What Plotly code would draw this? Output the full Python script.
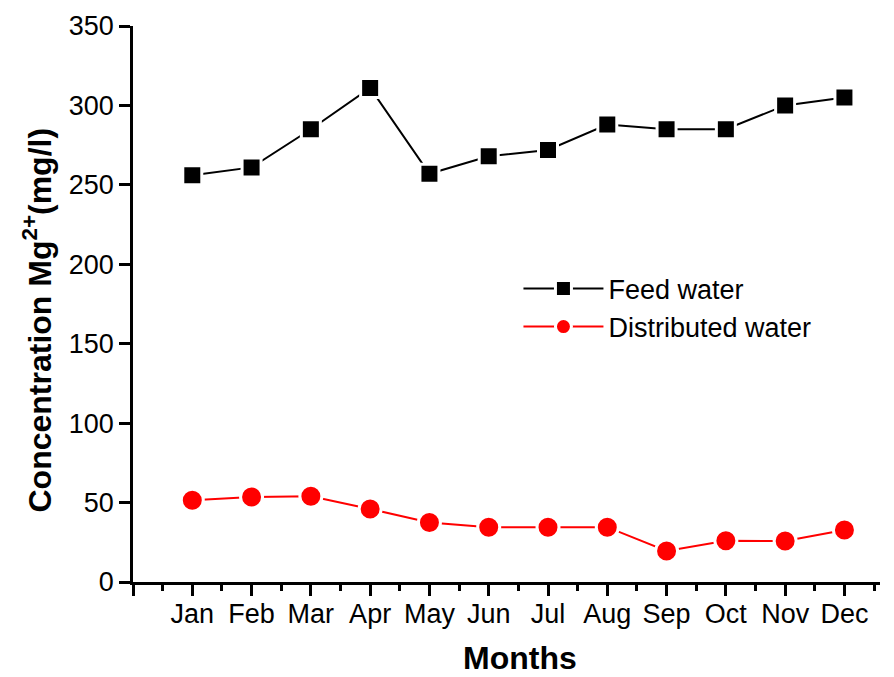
import plotly.graph_objects as go

# Monthly Mg2+ concentration (mg/l)
months = ["Jan", "Feb", "Mar", "Apr", "May", "Jun",
          "Jul", "Aug", "Sep", "Oct", "Nov", "Dec"]
month_pos = list(range(1, 13))
feed_water = [256, 261, 285, 311, 257, 268, 272, 288, 285, 285, 300, 305]
distributed_water = [51.5, 53.5, 54, 46, 37.5, 34.5, 34.5, 34.5, 19.5, 26, 25.8, 32.7]

y_ticks = [0, 50, 100, 150, 200, 250, 300, 350]

FONT = "Liberation Sans, Arial, sans-serif"

fig = go.Figure()

fig.add_trace(go.Scatter(
    x=month_pos, y=feed_water, name="Feed water",
    mode="lines+markers",
    line=dict(color="black", width=2),
    marker=dict(symbol="square", size=19, color="black",
                line=dict(color="white", width=3)),
))
fig.add_trace(go.Scatter(
    x=month_pos, y=distributed_water, name="Distributed water",
    mode="lines+markers",
    line=dict(color="#ff0000", width=2),
    marker=dict(symbol="circle", size=22, color="#ff0000",
                line=dict(color="white", width=3)),
))

fig.update_layout(
    width=894, height=677,
    margin=dict(l=133, r=14, t=26, b=95),
    plot_bgcolor="white", paper_bgcolor="white",
    font=dict(family=FONT, size=27, color="black"),
    showlegend=True,
    legend=dict(
        x=0.516, y=0.493, xanchor="left", yanchor="middle",
        bgcolor="rgba(0,0,0,0)", font=dict(size=27),
        itemwidth=80, tracegroupgap=0,
    ),
)

fig.update_xaxes(
    range=[0, 12.6],
    tickmode="array",
    tickvals=[0] + month_pos,
    ticktext=[""] + months,
    ticks="outside", ticklen=11, tickwidth=2.5, tickcolor="black",
    minor=dict(tickvals=[p - 0.5 for p in month_pos] + [12.5],
               ticks="outside", ticklen=6, tickwidth=2.5, tickcolor="black"),
    showline=True, linewidth=2.5, linecolor="black",
    showgrid=False, zeroline=False,
    tickfont=dict(size=27),
    ticklabelstandoff=-5,
)
fig.update_yaxes(
    range=[0, 350],
    tickmode="array", tickvals=y_ticks,
    ticks="outside", ticklen=11, tickwidth=2.5, tickcolor="black",
    showline=True, linewidth=2.5, linecolor="black",
    showgrid=False, zeroline=False,
    tickfont=dict(size=27),
)

fig.add_annotation(
    text="<b>Months</b>", xref="paper", yref="paper",
    x=0.518, y=-0.137, xanchor="center", yanchor="middle",
    showarrow=False, font=dict(size=32),
)
fig.add_annotation(
    text="<b>Concentration Mg<sup>2+</sup>(mg/l)</b>",
    xref="paper", yref="paper",
    x=-0.128, y=0.471, xanchor="center", yanchor="middle",
    textangle=-90, showarrow=False, font=dict(size=32),
)

fig.write_html("out.html")
